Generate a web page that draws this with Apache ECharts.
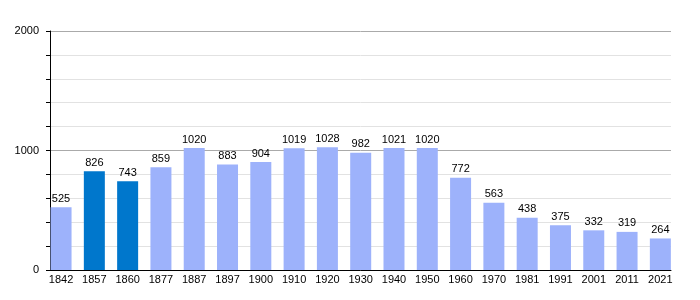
<!DOCTYPE html>
<html><head><meta charset="utf-8">
<script src="https://cdn.jsdelivr.net/npm/echarts@6/dist/echarts.min.js"></script>
<style>html,body{margin:0;padding:0;background:#fff}#c{width:700px;height:300px}</style>
</head><body><div id="c"></div>
<script>
var years = ['1842','1857','1860','1877','1887','1897','1900','1910','1920','1930','1940','1950','1960','1970','1981','1991','2001','2011','2021'];
var population = [525,826,743,859,1020,883,904,1019,1028,982,1021,1020,772,563,438,375,332,319,264];
var highlighted = ['1857','1860'];
var yTicks = [0,1000,2000];

var FONT = '"Liberation Sans", Arial, sans-serif';
var chart = echarts.init(document.getElementById('c'), null, {renderer:'canvas'});
var option = {
  animation:false,
  grid:[
    {left:50, right:29, top:31, bottom:30},
    {left:44.4, right:23, top:31, bottom:30}
  ],
  xAxis:[
    {gridIndex:0, type:'category', data:years, boundaryGap:true,
     axisLine:{show:true,lineStyle:{color:'#000',width:1}}, axisTick:{show:false}, axisLabel:{show:false}, splitLine:{show:false}},
    {gridIndex:1, type:'category', data:years, boundaryGap:true,
     axisLine:{show:false}, axisTick:{show:false},
     axisLabel:{show:true, interval:0, color:'#000', fontSize:11, fontFamily:FONT, margin:4}}
  ],
  yAxis:[
    {gridIndex:0, type:'value', min:yTicks[0], max:yTicks[yTicks.length-1], interval:1000,
     axisLine:{show:true,lineStyle:{color:'#000',width:1}},
     axisTick:{show:true,length:4,lineStyle:{color:'#000'}},
     minorTick:{show:true,splitNumber:5,length:4,lineStyle:{color:'#000'}},
     axisLabel:{color:'#000',fontSize:11,fontFamily:FONT,margin:11,formatter:function(v){return String(v);}},
     splitLine:{show:true,lineStyle:{color:'#aaaaaa',width:1}},
     minorSplitLine:{show:true,lineStyle:{color:'#e2e2e2',width:1}}},
    {gridIndex:1, type:'value', min:yTicks[0], max:yTicks[yTicks.length-1], show:false, splitLine:{show:false}}
  ],
  series:[{
    type:'bar', xAxisIndex:1, yAxisIndex:1, barWidth:21,
    data: population.map(function(v,i){
      return {value:v, itemStyle:{color: highlighted.indexOf(years[i])>=0 ? '#0077cc' : '#9db2fb'}};
    }),
    label:{show:true, position:'top', distance:3, color:'#000', fontSize:11, fontFamily:FONT}
  }]
};
chart.setOption(option);
</script></body></html>
